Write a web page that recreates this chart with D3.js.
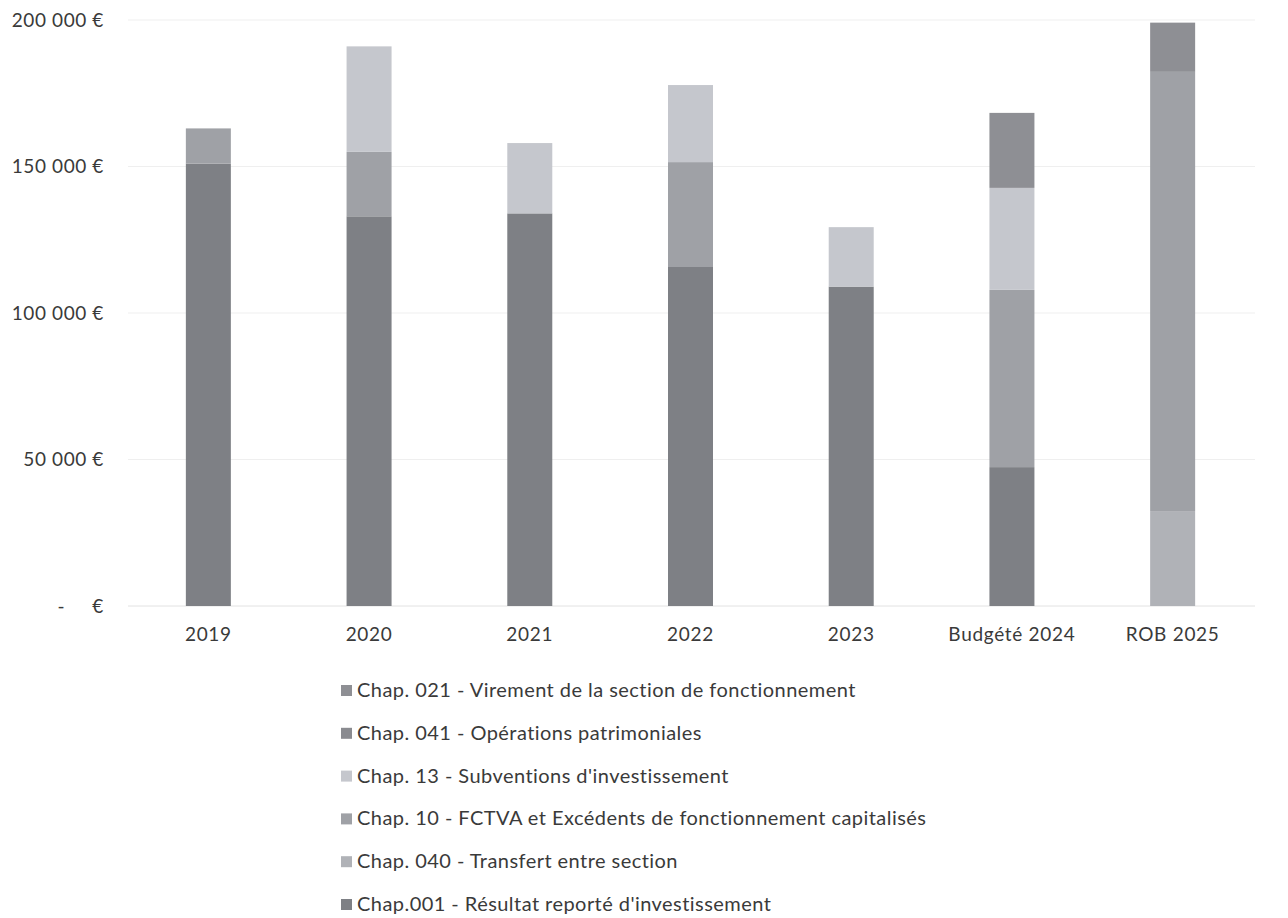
<!DOCTYPE html>
<html>
<head>
<meta charset="utf-8">
<script src="https://cdn.jsdelivr.net/npm/d3@7"></script>
<style>
  html, body { margin: 0; padding: 0; background: #ffffff; }
  svg { display: block; }
  text { font-family: Lato, "Open Sans", "Liberation Sans", sans-serif; white-space: pre; }
</style>
</head>
<body>
<svg id="chart" width="1288" height="918"></svg>
<script>
// ---- data ----
const categories = ["2019", "2020", "2021", "2022", "2023", "Budgété 2024", "ROB 2025"];
// series in stacking order (bottom to top)
const seriesNames = [
  "Chap.001 - Résultat reporté d'investissement",
  "Chap. 040 - Transfert entre section",
  "Chap. 10 - FCTVA et Excédents de fonctionnement capitalisés",
  "Chap. 13 - Subventions d'investissement",
  "Chap. 041 - Opérations patrimoniales",
  "Chap. 021 - Virement de la section de fonctionnement"
];
const chap001 = [151000, 133000, 134000, 115700, 109000, 47400, 0];
const chap040 = [0, 0, 0, 0, 0, 0, 32400];
const chap10  = [12000, 22000, 0, 35800, 0, 60500, 149900];
const chap13  = [0, 36000, 24000, 26300, 20300, 34800, 0];
const chap041 = [0, 0, 0, 0, 0, 0, 0];
const chap021 = [0, 0, 0, 0, 0, 25600, 16800];
const seriesColors = ["#7e8085", "#b0b2b7", "#9fa1a6", "#c5c7cd", "#8a8b90", "#8e8f94"];
const legendOrder = [5, 4, 3, 2, 1, 0];
const yTicks = [0, 50000, 100000, 150000, 200000];

const seriesValues = [chap001, chap040, chap10, chap13, chap041, chap021];

// ---- build table ----
const table = categories.map((c, i) => {
  const row = { cat: c };
  seriesNames.forEach((s, j) => { row[s] = seriesValues[j][i]; });
  return row;
});
const stacked = d3.stack().keys(seriesNames)(table);

const svg = d3.select("#chart");

const x = d3.scaleBand().domain(categories).range([128, 1253]).paddingInner(0.72).paddingOuter(0.36);
const y = d3.scaleLinear().domain([0, 200000]).range([606, 20]);

const fmt = v => v === 0 ? "-     €" : d3.format(",")(v).replace(/,/g, " ") + " €";

// gridlines
svg.append("g")
  .selectAll("line").data(yTicks).join("line")
  .attr("x1", 128).attr("x2", 1255)
  .attr("y1", d => y(d)).attr("y2", d => y(d))
  .attr("stroke", d => d === 0 ? "#e2e2e2" : "#efefef").attr("stroke-width", 1);

// y axis labels
const yAxis = d3.axisLeft(y).tickValues(yTicks).tickFormat(fmt).tickSize(0).tickPadding(0);
const gy = svg.append("g").attr("transform", "translate(104,0)").call(yAxis);
gy.select(".domain").remove();
gy.selectAll("text").attr("font-size", 19).attr("letter-spacing", 0.6).attr("fill", "#3a3a3a");

// bars
svg.append("g").selectAll("g").data(stacked).join("g")
  .attr("fill", (d, i) => seriesColors[i])
  .selectAll("rect").data(d => d).join("rect")
  .attr("x", d => x(d.data.cat))
  .attr("width", x.bandwidth())
  .attr("y", d => y(d[1]))
  .attr("height", d => Math.max(0, y(d[0]) - y(d[1])));

// x axis labels
const xAxis = d3.axisBottom(x).tickSize(0).tickPadding(0);
const gx = svg.append("g").attr("transform", "translate(0,627)").call(xAxis);
gx.select(".domain").remove();
gx.selectAll("text").attr("font-size", 19).attr("letter-spacing", 0.7).attr("fill", "#3a3a3a").attr("dy", "0.71em");

// legend
const legend = svg.append("g");
const lg = legend.selectAll("g").data(legendOrder).join("g")
  .attr("transform", (d, i) => `translate(341, ${690 + i * 42.8})`);
lg.append("rect").attr("x", 0).attr("y", -5).attr("width", 11).attr("height", 11)
  .attr("fill", d => seriesColors[d]);
lg.append("text").attr("x", 16).attr("y", 0).attr("dy", "0.35em")
  .attr("font-size", 20).attr("letter-spacing", 0.45).attr("fill", "#3a3a3a")
  .text(d => seriesNames[d]);
</script>
</body>
</html>
